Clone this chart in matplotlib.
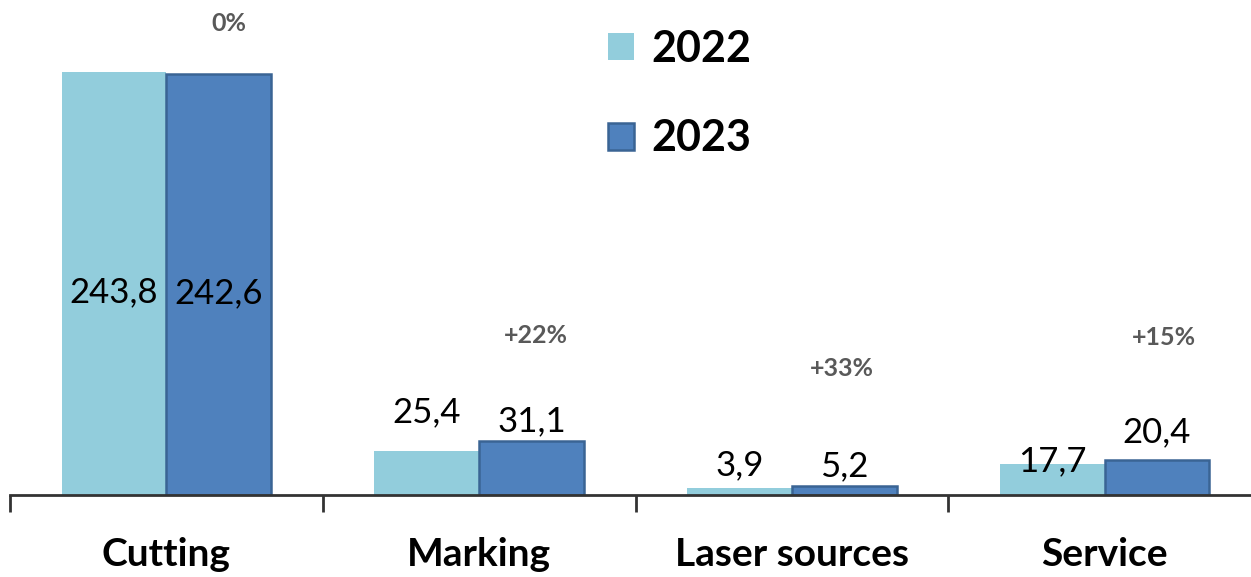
import numpy as np
import matplotlib
matplotlib.use("Agg")
import matplotlib.pyplot as plt

plt.rcParams['font.family'] = ['Lato', 'DejaVu Sans']

# data
categories = ['Cutting', 'Marking', 'Laser sources', 'Service']
years = ['2022', '2023']
values_2022 = [243.8, 25.4, 3.9, 17.7]
values_2023 = [242.6, 31.1, 5.2, 20.4]
changes = ['0%', '+22%', '+33%', '+15%']

# label offsets (points above bar top; None = centred inside bar)
off_2022 = [None, 16, 5, -9]
off_2023 = [None, 3, 3, 8]
# where the percent tags sit (x in category units, y in data units)
change_pos = [(0.2, 272), (1.18, 92), (2.16, 73), (3.19, 91)]

c22 = '#92CDDC'
c23 = '#4F81BD'
edge23 = '#3A6494'

fig = plt.figure(figsize=(12.51, 5.77), dpi=100)
ax = fig.add_axes([10 / 1251, 82 / 577, 1251 / 1251, 495 / 577])

x = np.arange(len(categories))
w = 0.335
b1 = ax.bar(x - w / 2, values_2022, w, color=c22, label=years[0], zorder=2)
b2 = ax.bar(x + w / 2, values_2023, w, color=c23, edgecolor=edge23,
            linewidth=1.8, label=years[1], zorder=2)

for bars, vals, offs in [(b1, values_2022, off_2022), (b2, values_2023, off_2023)]:
    for r, v, o in zip(bars, vals, offs):
        txt = f'{v:.1f}'.replace('.', ',')
        cx = r.get_x() + r.get_width() / 2
        if o is None:
            ax.text(cx, v * 0.48, txt, ha='center', va='center', fontsize=25, color='black')
        else:
            ax.annotate(txt, (cx, v), xytext=(0, o), textcoords='offset points',
                        ha='center', va='bottom', fontsize=25, color='black')

for lab, (px, py) in zip(changes, change_pos):
    ax.text(px, py, lab, ha='center', va='center', fontsize=18, fontweight='bold', color='#595959')

ax.set_xlim(-0.5, 3.5 - 10 / 312.7)
ax.set_ylim(0, 285.3)

for s in ['top', 'right', 'left']:
    ax.spines[s].set_visible(False)
ax.spines['bottom'].set_linewidth(2)
ax.spines['bottom'].set_color('#333333')
ax.set_yticks([])

ax.set_xticks(np.arange(-0.5, 3.6, 1.0))
ax.set_xticklabels([])
ax.tick_params(axis='x', which='major', length=12, width=2, color='#333333', direction='out')
ax.set_xticks(x, minor=True)
ax.set_xticklabels(categories, minor=True, fontsize=28, fontweight='bold')
ax.tick_params(axis='x', which='minor', length=0, pad=30)

leg = ax.legend(loc='upper left', bbox_to_anchor=(0.447, 1.02), frameon=False,
                prop={'size': 31, 'weight': 'bold'}, handlelength=0.6, handleheight=0.6,
                handletextpad=0.4, labelspacing=1.15)

fig.savefig('out.png', dpi=100, facecolor='white')
